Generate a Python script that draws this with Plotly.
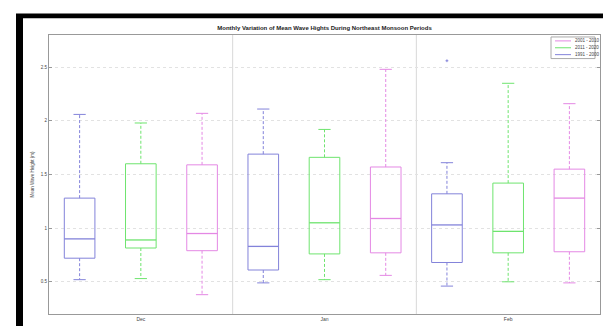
import plotly.graph_objects as go

# ---------------- data ----------------
months = ["Dec", "Jan", "Feb"]
series_names = ["1991 - 2000", "2011 - 2020", "2001 - 2010"]   # blue, green, pink (drawing order)
legend_labels = ["2001 - 2010", "2011 - 2020", "1991 - 2000"]  # as printed in legend (top to bottom)
legend_series = [2, 1, 0]                                      # series index of each legend row

blue_upper = [2.06, 2.11, 1.61]
blue_q3 = [1.28, 1.69, 1.32]
blue_median = [0.90, 0.83, 1.03]
blue_q1 = [0.72, 0.61, 0.68]
blue_lower = [0.52, 0.49, 0.46]

green_upper = [1.98, 1.92, 2.35]
green_q3 = [1.60, 1.66, 1.42]
green_median = [0.89, 1.05, 0.97]
green_q1 = [0.815, 0.76, 0.77]
green_lower = [0.53, 0.52, 0.50]

pink_upper = [2.07, 2.48, 2.16]
pink_q3 = [1.59, 1.57, 1.55]
pink_median = [0.95, 1.09, 1.28]
pink_q1 = [0.79, 0.77, 0.78]
pink_lower = [0.38, 0.56, 0.49]

outlier_month = ["Feb"]
outlier_value = [2.56]

y_ticks = [0.5, 1, 1.5, 2, 2.5]
y_tick_labels = ["0.5", "1", "1.5", "2", "2.5"]

# ---------------- styling ----------------
colors = ["#8383da", "#6ee46e", "#e488e4"]
FONT = "Liberation Sans, Arial, sans-serif"
BOX_W = 0.5
CAP_W = 0.2
n_series = 3

series = [
    (blue_upper, blue_q3, blue_median, blue_q1, blue_lower),
    (green_upper, green_q3, green_median, green_q1, green_lower),
    (pink_upper, pink_q3, pink_median, pink_q1, pink_lower),
]

W, H = 611, 326
L, R, T, B = 41, 19, 27, 15
pw, ph = W - L - R, H - T - B
def px(x): return (x - L) / pw
def py(y): return (H - B - y) / ph

fig = go.Figure()

# black frame around the figure
fig.add_shape(type="rect", xref="paper", yref="paper", x0=px(8), x1=px(611), y0=py(326), y1=py(5),
              fillcolor="black", line_width=0, layer="below")
fig.add_shape(type="rect", xref="paper", yref="paper", x0=px(15), x1=px(604), y0=py(326), y1=py(10),
              fillcolor="white", line_width=0, layer="below")

# group separators
for g in range(1, len(months)):
    fig.add_shape(type="line", xref="x", yref="paper", x0=g * n_series + 0.5, x1=g * n_series + 0.5,
                  y0=0, y1=1, line=dict(color="#d8d8d8", width=1), layer="below")

for s, (up, q3, med, q1, lo) in enumerate(series):
    col = colors[s]
    bx, by, mx, my, wx, wy, cx, cy = [], [], [], [], [], [], [], []
    for m in range(len(months)):
        p = m * n_series + s + 1
        l, r = p - BOX_W / 2, p + BOX_W / 2
        bx += [l, r, r, l, l, None]
        by += [q1[m], q1[m], q3[m], q3[m], q1[m], None]
        mx += [l, r, None]
        my += [med[m], med[m], None]
        wx += [p, p, None, p, p, None]
        wy += [q3[m], up[m], None, q1[m], lo[m], None]
        cx += [p - CAP_W / 2, p + CAP_W / 2, None, p - CAP_W / 2, p + CAP_W / 2, None]
        cy += [up[m], up[m], None, lo[m], lo[m], None]
    name = series_names[s]
    fig.add_trace(go.Scatter(x=wx, y=wy, mode="lines", line=dict(color=col, width=1, dash="3px,2px"),
                             showlegend=False, hoverinfo="skip"))
    fig.add_trace(go.Scatter(x=cx, y=cy, mode="lines", line=dict(color=col, width=1),
                             showlegend=False, hoverinfo="skip"))
    fig.add_trace(go.Scatter(x=bx, y=by, mode="lines", line=dict(color=col, width=1),
                             name=name, showlegend=False))
    fig.add_trace(go.Scatter(x=mx, y=my, mode="lines", line=dict(color=col, width=1.3),
                             showlegend=False, hoverinfo="skip"))

# outlier (blue series)
ox = [months.index(mo) * n_series + 0 + 1 for mo in outlier_month]
fig.add_trace(go.Scatter(x=ox, y=outlier_value, mode="markers",
                         marker=dict(symbol="cross-thin", size=2, line=dict(color=colors[0], width=1)),
                         showlegend=False))

# manual compact legend (top-right, inside axes)
fig.add_shape(type="rect", xref="paper", yref="paper", x0=px(543), x1=px(587), y0=py(51), y1=py(29),
              fillcolor="white", line=dict(color="#aaaaaa", width=1), layer="above")
for i, (lab, si) in enumerate(zip(legend_labels, legend_series)):
    yy = 33 + i * 7
    fig.add_shape(type="line", xref="paper", yref="paper", x0=px(547), x1=px(563), y0=py(yy), y1=py(yy),
                  line=dict(color=colors[si], width=1), layer="above")
    fig.add_annotation(xref="paper", yref="paper", x=px(565), y=py(yy), xanchor="left", yanchor="middle",
                       text=lab, showarrow=False, font=dict(family=FONT, size=4.5, color="#444"))

fig.update_layout(
    width=W, height=H,
    margin=dict(l=L, r=R, t=T, b=B),
    paper_bgcolor="white", plot_bgcolor="rgba(0,0,0,0)",
    font=dict(family=FONT, size=5, color="#444"),
    title=dict(text="<b>Monthly Variation of Mean Wave Hights During Northeast Monsoon Periods</b>",
               x=0.5, xref="paper", y=1 - 20 / H, yanchor="middle",
               font=dict(family=FONT, size=6, color="#222")),
    showlegend=False,
    xaxis=dict(range=[0.5, 9.5], tickvals=[m * n_series + 2 for m in range(len(months))],
               ticktext=months, showgrid=False, zeroline=False, showline=True, mirror=True,
               linecolor="#999", linewidth=1, ticks="", tickfont=dict(size=5, color="#444")),
    yaxis=dict(range=[0.2, 2.8], tickvals=y_ticks, ticktext=y_tick_labels, showgrid=True,
               gridcolor="#e2e2e2", griddash="dot", gridwidth=1, zeroline=False, showline=True,
               mirror="ticks", linecolor="#999", linewidth=1, ticks="inside", ticklen=3,
               tickcolor="#999", tickfont=dict(size=4.5, color="#444"),
               title=dict(text="Mean Wave Height (m)", font=dict(size=4.5, color="#444"), standoff=6)),
)

fig.write_html("out.html")
